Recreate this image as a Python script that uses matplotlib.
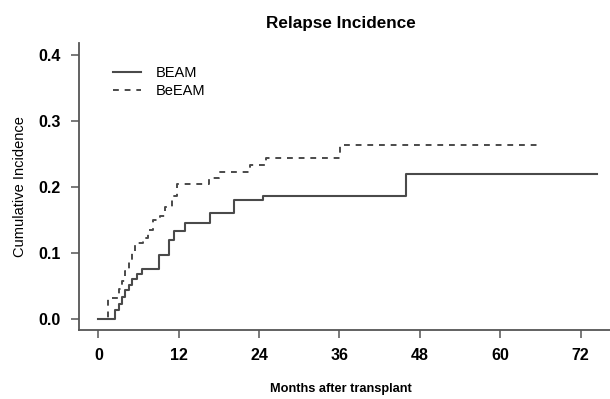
import matplotlib
matplotlib.use('Agg')
import matplotlib.pyplot as plt

# cumulative incidence of relapse (months, incidence)
beam_t = [0, 2.5, 3.0, 3.5, 4.0, 4.5, 5.0, 5.8, 6.5, 9.0, 10.5, 11.3, 13.0,
          16.7, 20.3, 24.6, 46.0, 74.5]
beam_v = [0, 0.014, 0.022, 0.033, 0.044, 0.052, 0.060, 0.068, 0.075, 0.097,
          0.120, 0.133, 0.145, 0.160, 0.180, 0.186, 0.220, 0.220]

beeam_t = [0, 1.4, 3.0, 3.5, 4.0, 4.6, 5.0, 5.4, 6.6, 7.4, 8.2, 9.2, 10.0,
           11.0, 11.8, 16.5, 18.0, 22.6, 25.0, 36.1, 66.0]
beeam_v = [0, 0.032, 0.045, 0.058, 0.072, 0.086, 0.100, 0.115, 0.122, 0.135,
           0.150, 0.156, 0.170, 0.186, 0.205, 0.213, 0.222, 0.233, 0.244,
           0.264, 0.264]

x_ticks = [0, 12, 24, 36, 48, 60, 72]
y_ticks = [0.0, 0.1, 0.2, 0.3, 0.4]

plt.rcParams['font.family'] = ['Liberation Sans', 'DejaVu Sans']

fig = plt.figure(figsize=(6.10, 3.99), dpi=100)
ax = fig.add_axes([79 / 610, 69 / 399, 531 / 610, 287 / 399])

line_col = '#4a4a4a'
ax.step(beam_t, beam_v, where='post', color=line_col, lw=1.5, label='BEAM')
ax.step(beeam_t, beeam_v, where='post', color=line_col, lw=1.4,
        linestyle=(0, (3, 3)), label='BeEAM')

ax.set_xlim(-2.9, 76.4)
ax.set_ylim(-0.0167, 0.418)
ax.set_xticks(x_ticks)
ax.set_yticks(y_ticks)
ax.set_yticklabels(['%.1f' % v for v in y_ticks])

for s in ['top', 'right']:
    ax.spines[s].set_visible(False)
for s in ['left', 'bottom']:
    ax.spines[s].set_color('#555555')
    ax.spines[s].set_linewidth(1.3)

ax.tick_params(direction='out', length=6, width=1.1, color='#555555',
               labelsize=11.5, pad=7)
for lab in ax.get_xticklabels() + ax.get_yticklabels():
    lab.set_fontweight('bold')

ax.set_title('Relapse Incidence', fontsize=12.3, fontweight='bold', pad=11,
             x=0.494)
ax.set_xlabel('Months after transplant', fontsize=9.2, fontweight='bold')
ax.xaxis.set_label_coords(0.494, -0.186)
ax.set_ylabel('Cumulative Incidence', fontsize=10.5, labelpad=8)

ax.legend(loc='upper left', bbox_to_anchor=(0.064, 0.92), frameon=False,
          fontsize=10.5, handlelength=1.9, handletextpad=1.05,
          labelspacing=0.3, borderpad=0, borderaxespad=0)

fig.savefig('out.png', dpi=100)
